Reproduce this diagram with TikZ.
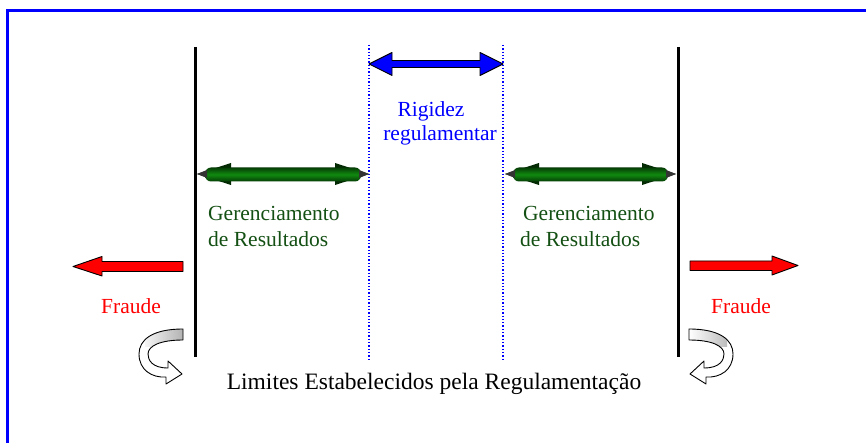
\documentclass[tikz,border=0pt]{standalone}
\usepackage{fontspec}
\setmainfont{Liberation Serif}
\begin{document}
\begin{tikzpicture}[x=1pt,y=-1pt,
  lbl/.style={font=\fontsize{21.5}{24}\selectfont, anchor=base, inner sep=0pt},
  blk/.style={line width=3pt, black},
  dotl/.style={blue, line width=1.3pt, dotted},
  outl/.style={draw=black, line width=0.9pt, line join=round}]
\definecolor{gtext}{RGB}{20,80,20}
\definecolor{gbar}{RGB}{20,110,20}
\definecolor{gdark}{RGB}{5,60,5}
\useasboundingbox (0,0) rectangle (866,443);
\fill[white] (0,0) rectangle (866,443);
% frame
\draw[blue, line width=3pt] (7,443) -- (7,11) -- (866,11);
% coordinates for lines
\coordinate (l1t) at (195,47); \coordinate (l1b) at (195,357);
\coordinate (l2t) at (678,47); \coordinate (l2b) at (678,357);
\coordinate (d1t) at (369,45); \coordinate (d1b) at (369,360);
\coordinate (d2t) at (503,45); \coordinate (d2b) at (503,360);
\draw[blk] (l1t) -- (l1b);
\draw[blk] (l2t) -- (l2b);
\draw[dotl] (d1t) -- (d1b);
\draw[dotl] (d2t) -- (d2b);
% blue double arrow
\filldraw[fill=blue, outl] (369,64) -- (392,52.5) -- (392,60.5) -- (480,60.5) -- (480,52.5) -- (503,64)
  -- (480,75.5) -- (480,67.5) -- (392,67.5) -- (392,75.5) -- cycle;
% green double arrows
\foreach \a/\b in {197/369, 505/676}{
  \fill[gdark!70!black] (\a,174) -- (\a+34,163) -- (\a+34,185) -- cycle;
  \fill[gdark!70!black] (\b,174) -- (\b-34,163) -- (\b-34,185) -- cycle;
  \shade[top color=gdark, bottom color=gdark, middle color=gbar!80!green, rounded corners=6pt]
    (\a+8,167.5) rectangle (\b-8,181.5);
  \fill[black!80] (\a,174) -- (\a+10,170) -- (\a+10,178) -- cycle;
  \fill[black!80] (\b,174) -- (\b-10,170) -- (\b-10,178) -- cycle;
}
% red arrows
\filldraw[fill=red, outl] (183,261.5) -- (102,261.5) -- (102,256.5) -- (73,266.5) -- (102,276) -- (102,271.5) -- (183,271.5) -- cycle;
\filldraw[fill=red, outl] (690,261) -- (772,261) -- (772,256) -- (798,265.5) -- (772,275) -- (772,270.5) -- (690,270.5) -- cycle;
% curved arrows
\foreach \s/\o in {1/0, -1/872}{
  \begin{scope}[xshift=\o pt, xscale=\s]
    \path[fill=white] (183,329) .. controls (152,329) and (139,340) .. (139,354)
      .. controls (139,370) and (152,378) .. (166,377) -- (166,384) -- (182,374) -- (168,361) -- (168,368)
      .. controls (152,368) and (148,360) .. (148,354) .. controls (148,346) and (160,340) .. (183,340) -- cycle;
    \begin{scope}
      \clip (145,320) rectangle (190,346);
      \shade[left color=white, right color=black!30] (183,329) .. controls (152,329) and (139,340) .. (139,354)
        -- (148,354) .. controls (148,346) and (160,340) .. (183,340) -- cycle;
    \end{scope}
    \draw[outl] (183,329) .. controls (152,329) and (139,340) .. (139,354)
      .. controls (139,370) and (152,378) .. (166,377) -- (166,384) -- (182,374) -- (168,361) -- (168,368)
      .. controls (152,368) and (148,360) .. (148,354) .. controls (148,346) and (160,340) .. (183,340) -- cycle;
  \end{scope}
}
% texts
\node[lbl, blue] (rig1) at (431,117) {Rigidez};
\node[lbl, blue] (rig2) at (440,141) {regulamentar};
\node[lbl, gtext, anchor=base west] (g1) at (208,221) {Gerenciamento};
\node[lbl, gtext, anchor=base west] (g2) at (208,247) {de Resultados};
\node[lbl, gtext, anchor=base west] (g3) at (523,221) {Gerenciamento};
\node[lbl, gtext, anchor=base west] (g4) at (520,247) {de Resultados};
\node[lbl, red] (f1) at (131,313) {Fraude};
\node[lbl, red] (f2) at (741,313) {Fraude};
\node[lbl, font=\fontsize{23.5}{26}\selectfont] (lim) at (434,389) {Limites Estabelecidos pela Regulamentação};
\end{tikzpicture}
\end{document}
